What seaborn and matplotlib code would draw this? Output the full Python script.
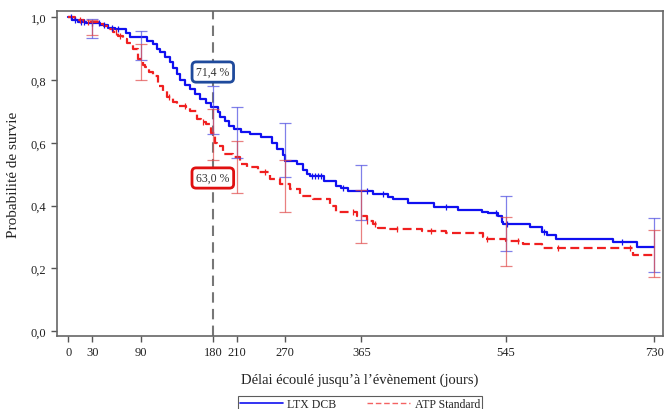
import numpy as np
import pandas as pd
import matplotlib
matplotlib.use("Agg")
import matplotlib.pyplot as plt
import seaborn as sns
from matplotlib.lines import Line2D

# ---------------- data ----------------
groups = ["LTX DCB", "ATP Standard"]

ltx_t = [0, 5, 12, 22, 40, 50, 58, 72, 77, 98, 105, 110, 114, 120, 127, 131, 135, 139,
         145, 151, 158, 164, 172, 178, 186, 189, 195, 200, 207, 215, 226, 240, 254, 260,
         268, 270, 285, 292, 297, 301, 318, 334, 340, 349, 380, 398, 405, 423, 455, 486,
         515, 523, 535, 540, 542, 575, 590, 596, 608, 679, 708, 730]
ltx_s = [1.0, 0.993, 0.987, 0.982, 0.975, 0.968, 0.962, 0.952, 0.938, 0.926, 0.915, 0.90,
         0.89, 0.875, 0.858, 0.84, 0.82, 0.80, 0.785, 0.772, 0.755, 0.74, 0.728, 0.714,
         0.70, 0.683, 0.67, 0.655, 0.644, 0.635, 0.628, 0.619, 0.60, 0.58, 0.56, 0.543,
         0.532, 0.515, 0.50, 0.494, 0.48, 0.462, 0.455, 0.447, 0.437, 0.427, 0.42, 0.408,
         0.396, 0.386, 0.38, 0.376, 0.368, 0.348, 0.341, 0.332, 0.315, 0.305, 0.293,
         0.285, 0.269, 0.269]

atp_t = [0, 8, 20, 30, 37, 45, 50, 56, 62, 68, 73, 81, 87, 93, 96, 101, 106, 112, 118,
         123, 130, 135, 146, 152, 160, 165, 172, 178, 183, 185, 193, 205, 214, 222, 236,
         251, 264, 276, 289, 305, 326, 334, 359, 372, 380, 386, 398, 440, 470, 517, 520,
         545, 566, 590, 704, 730]
atp_s = [1.0, 0.993, 0.987, 0.985, 0.98, 0.972, 0.963, 0.953, 0.94, 0.93, 0.92, 0.90,
         0.868, 0.85, 0.842, 0.825, 0.814, 0.782, 0.765, 0.746, 0.732, 0.719, 0.71, 0.703,
         0.676, 0.667, 0.66, 0.63, 0.60, 0.59, 0.565, 0.555, 0.532, 0.522, 0.507, 0.485,
         0.469, 0.453, 0.432, 0.421, 0.40, 0.379, 0.367, 0.352, 0.34, 0.328, 0.325, 0.318,
         0.313, 0.30, 0.293, 0.288, 0.277, 0.264, 0.243, 0.243]

# censored observations (days)
ltx_cens = [3, 8, 16, 20, 30, 38, 45, 55, 62, 303, 307, 311, 315, 342, 372, 392, 470,
            533, 547, 592, 690]
atp_cens = [15, 25, 60, 65, 125, 145, 168, 245, 355, 372, 382, 410, 452, 522, 560, 610, 700]

# confidence intervals at landmark times
ci_times = [30, 90, 180, 210, 270, 365, 545, 730]
ltx_lo = [0.935, 0.864, 0.628, 0.552, 0.492, 0.354, 0.254, 0.187]
ltx_hi = [0.995, 0.958, 0.782, 0.715, 0.662, 0.531, 0.430, 0.360]
atp_lo = [0.944, 0.800, 0.545, 0.440, 0.380, 0.281, 0.208, 0.171]
atp_hi = [0.993, 0.915, 0.708, 0.607, 0.546, 0.450, 0.365, 0.323]

xticks = [0, 30, 90, 180, 210, 270, 365, 545, 730]
yticks = [0.0, 0.2, 0.4, 0.6, 0.8, 1.0]
ytick_labels = ["0,0", "0,2", "0,4", "0,6", "0,8", "1,0"]
landmark = 180
landmark_labels = ["71,4 %", "63,0 %"]

# ---------------- style ----------------
sns.set_style("ticks")
plt.rcParams["font.family"] = ["Liberation Serif", "DejaVu Serif"]

blue = "#1010f0"
red = "#f02020"
colors = {groups[0]: blue, groups[1]: red}

df = pd.concat([
    pd.DataFrame({"t": ltx_t, "s": ltx_s, "g": groups[0]}),
    pd.DataFrame({"t": atp_t, "s": atp_s, "g": groups[1]}),
])

fig = plt.figure(figsize=(6.64, 4.10), dpi=100)
ax = fig.add_axes([57 / 664, 1 - 337 / 410, (663 - 57) / 664, (337 - 12) / 410])

sns.lineplot(data=df, x="t", y="s", hue="g", style="g", palette=colors,
             dashes={groups[0]: "", groups[1]: (4, 2)}, estimator=None,
             drawstyle="steps-post", linewidth=1.6, legend=False, ax=ax)


def step_val(ts, ss, x):
    ts = np.asarray(ts); ss = np.asarray(ss)
    i = np.searchsorted(ts, x, side="right") - 1
    return ss[max(i, 0)]


# censor marks
for ts, ss, cens, c in [(ltx_t, ltx_s, ltx_cens, blue), (atp_t, atp_s, atp_cens, red)]:
    cy = [step_val(ts, ss, x) for x in cens]
    ax.plot(cens, cy, linestyle="none", marker="|", markersize=5, mew=0.9, color=c)

# confidence interval bars
for lo, hi, c in [(ltx_lo, ltx_hi, "#4a4ae0"), (atp_lo, atp_hi, "#e04a4a")]:
    mid = [(a + b) / 2 for a, b in zip(lo, hi)]
    err = [[m - a for m, a in zip(mid, lo)], [b - m for m, b in zip(mid, hi)]]
    ax.errorbar(ci_times, mid, yerr=err, fmt="none", ecolor=c, elinewidth=0.9,
                capsize=4, capthick=0.9, alpha=0.7)

# landmark line
ax.axvline(landmark, color="#777777", linestyle=(0, (5, 3)), linewidth=1.5, zorder=0)

# landmark annotations
ax.text(landmark, 0.826, landmark_labels[0], ha="center", va="center", fontsize=8.5,
        color="#333333",
        bbox=dict(boxstyle="round,pad=0.35", fc="white", ec="#1f4a9c", lw=2))
ax.text(landmark, 0.488, landmark_labels[1], ha="center", va="center", fontsize=8.5,
        color="#333333",
        bbox=dict(boxstyle="round,pad=0.35", fc="white", ec="#e01010", lw=2))

ax.set_xlim(-14.1, 740.8)
ax.set_ylim(-0.016, 1.0207)
ax.set_xticks(xticks)
ax.set_xticklabels([str(x) for x in xticks], fontsize=9)
ax.set_yticks(yticks)
ax.set_yticklabels(ytick_labels, fontsize=9)
ax.tick_params(direction="out", length=4, width=1, color="#555555", labelcolor="#222222")
for sp in ax.spines.values():
    sp.set_color("#666666")
    sp.set_linewidth(1.2)
ax.set_xlabel("Délai écoulé jusqu’à l’évènement (jours)", fontsize=10.5, labelpad=10,
              color="#222222")
ax.set_ylabel("Probabilité de survie", fontsize=11, labelpad=8, color="#222222")

handles = [Line2D([], [], color=blue, lw=1.2, label=groups[0]),
           Line2D([], [], color=red, lw=1.0, ls=(0, (4, 2)), alpha=0.7, label=groups[1])]
leg = fig.legend(handles=handles, loc="upper center", bbox_to_anchor=(360 / 664, 1 - 397 / 410),
                 borderaxespad=0, ncol=2, fontsize=8.5, frameon=True, fancybox=False,
                 edgecolor="#333333", handlelength=3.6, handletextpad=0.4,
                 columnspacing=2.6, borderpad=0.15)
leg.get_frame().set_linewidth(0.8)

fig.savefig("out.png", dpi=100)
